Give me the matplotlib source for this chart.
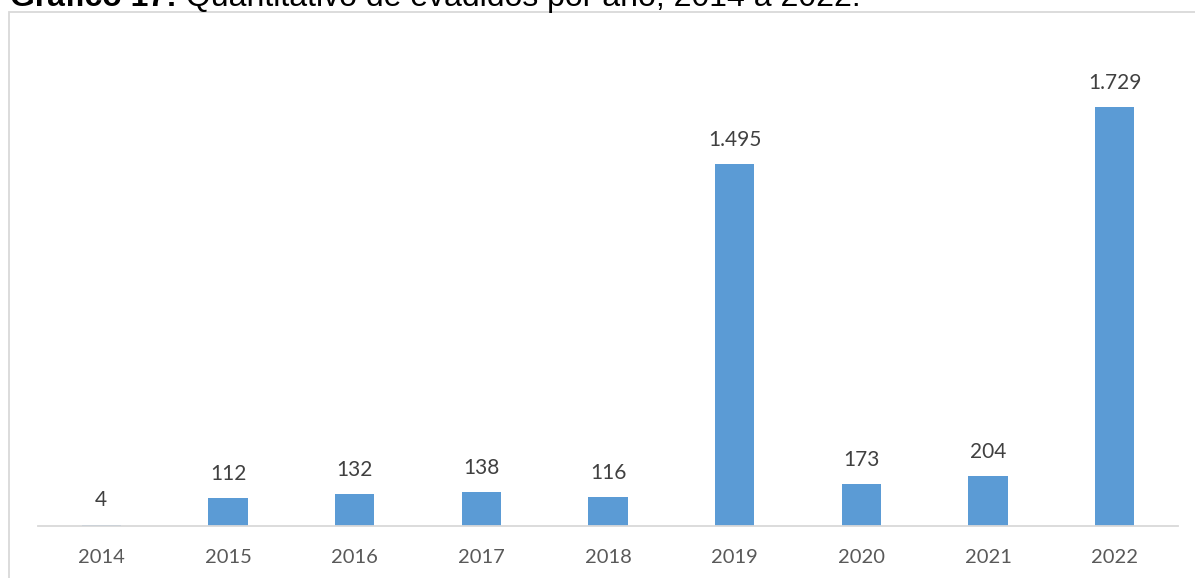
import matplotlib
matplotlib.use("Agg")
import matplotlib.pyplot as plt
from matplotlib.patches import Rectangle

years = ["2014", "2015", "2016", "2017", "2018", "2019", "2020", "2021", "2022"]
values = [4, 112, 132, 138, 116, 1495, 173, 204, 1729]
labels = ["4", "112", "132", "138", "116", "1.495", "173", "204", "1.729"]
title_bold = "Gráfico 17:"
title_rest = " Quantitativo de evadidos por ano, 2014 a 2022."

W, H = 1195, 578
fig = plt.figure(figsize=(W / 100, H / 100), dpi=100)
fig.patch.set_facecolor("white")

# chart frame (extends beyond right/bottom edges)
fig.patches.append(Rectangle((8.5 / W, -0.1), 1.2, (H - 12) / H + 0.1,
                             transform=fig.transFigure, fill=False,
                             edgecolor="#d9d9d9", linewidth=1.3))

ax_left, ax_right = 38 / W, 1178 / W
ax_bottom = (H - 525.5) / H
ax_top = (H - (525.5 - 2000 * 0.242)) / H
ax = fig.add_axes([ax_left, ax_bottom, ax_right - ax_left, ax_top - ax_bottom])

x = list(range(len(years)))
ax.bar(x, values, width=0.31, color="#5B9BD5", zorder=2)
ax.set_xlim(-0.5, len(years) - 0.5)
ax.set_ylim(0, 2000)

font = "Lato"
for xi, v, lab in zip(x, values, labels):
    ax.annotate(lab, (xi, v), xytext=(0, 13), textcoords="offset points",
                ha="center", va="baseline", fontsize=15, color="#404040",
                family=font)

ax.set_xticks(x)
ax.set_xticklabels(years, fontsize=14.5, color="#595959", family=font)
ax.tick_params(axis="x", length=0, pad=17)
ax.set_yticks([])
for s in ["left", "right", "top"]:
    ax.spines[s].set_visible(False)
ax.spines["bottom"].set_color("#d9d9d9")
ax.spines["bottom"].set_linewidth(1.3)
ax.patch.set_alpha(0)

ty = 1 - 6 / H
tb = fig.text(10 / W, ty, title_bold, fontsize=23, fontweight="bold",
              va="baseline", ha="left", family="Liberation Sans", color="black")
fig.canvas.draw()
bb = tb.get_window_extent(renderer=fig.canvas.get_renderer())
fig.text(bb.x1 / W, ty, title_rest, fontsize=23, va="baseline", ha="left",
         family="Liberation Sans", color="black")
fig.savefig("out.png", dpi=100)
